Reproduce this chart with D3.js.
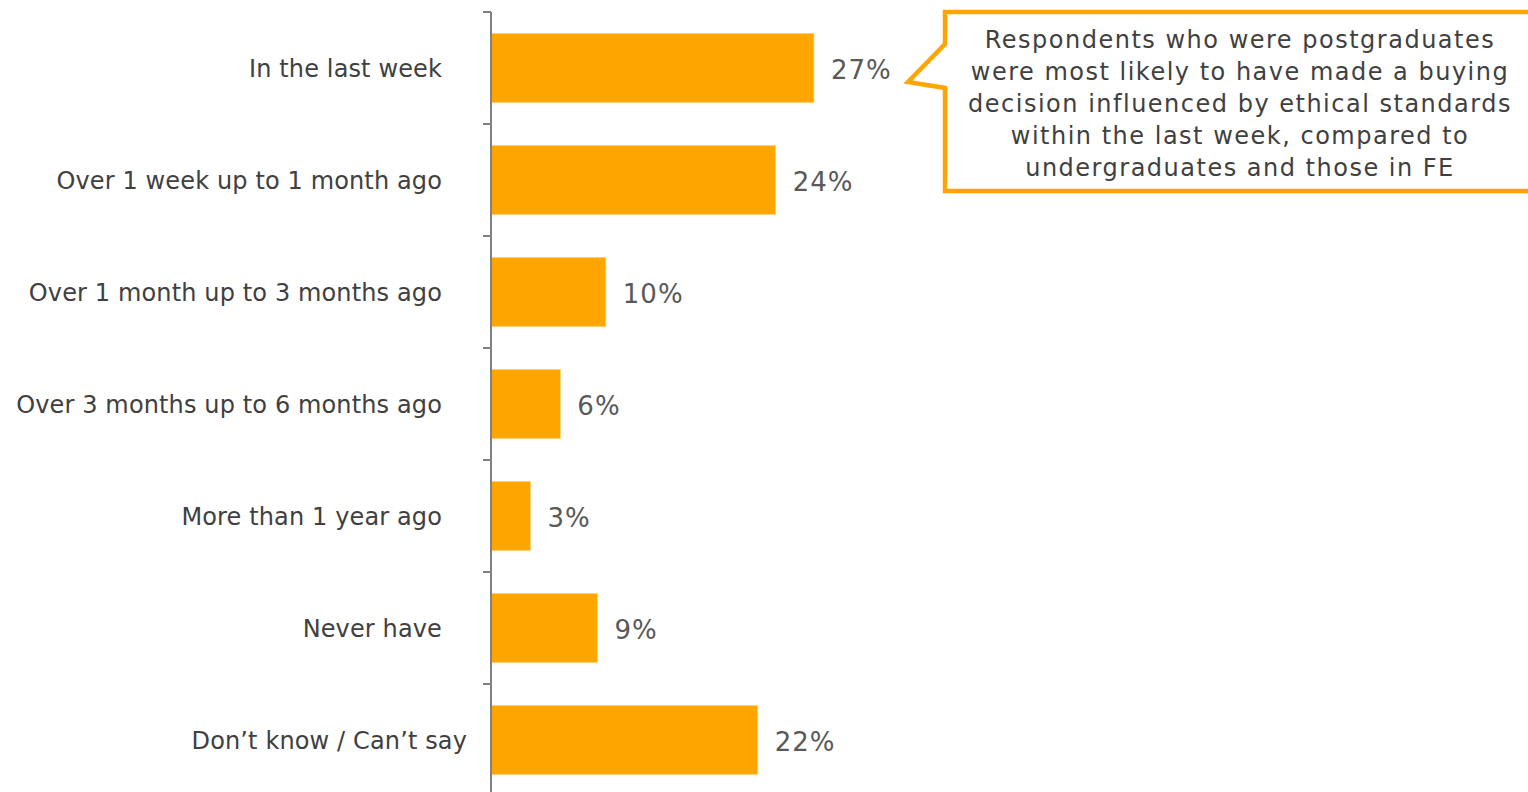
<!DOCTYPE html>
<html>
<head>
<meta charset="utf-8">
<script src="https://cdn.jsdelivr.net/npm/d3@7"></script>
<style>
  body { margin: 0; background: #fff; }
  svg { display: block; font-family: Verdana, "DejaVu Sans", sans-serif; }
  .cat { font-size: 24px; fill: #404040; letter-spacing: 0.13px; }
  .value { font-size: 26px; fill: #595959; letter-spacing: 1px; }
  .note { font-size: 24px; fill: #404040; letter-spacing: 1.5px; }
</style>
</head>
<body>
<svg id="chart" width="1528" height="792"></svg>
<script>
// data
const categories = [
    'In the last week',
    'Over 1 week up to 1 month ago',
    'Over 1 month up to 3 months ago',
    'Over 3 months up to 6 months ago',
    'More than 1 year ago',
    'Never have',
    'Don\u2019t know / Can\u2019t say'
];
const values = [27.0, 23.8, 9.6, 5.8, 3.3, 8.9, 22.3];
const valueLabels = ['27%', '24%', '10%', '6%', '3%', '9%', '22%'];
const noteLines = [
    'Respondents who were postgraduates',
    'were most likely to have made a buying',
    'decision influenced by ethical standards',
    'within the last week, compared to',
    'undergraduates and those in FE'
];

const orange = '#FFA500';
const svg = d3.select('#chart');

const axisX = 491;
const pad = 0.384;

const x = d3.scaleLinear()
    .domain([0, 100])
    .range([axisX, axisX + 1196]);

const y = d3.scaleBand()
    .domain(categories)
    .range([12, 796])
    .paddingInner(pad)
    .paddingOuter(pad / 2);

const step = y.step();
const bandStart = (c) => y(c) - step * pad / 2;

// bars
svg.append('g')
    .selectAll('rect')
    .data(categories)
    .join('rect')
    .attr('x', x(0))
    .attr('y', (c) => y(c))
    .attr('width', (c, i) => x(values[i]) - x(0))
    .attr('height', y.bandwidth())
    .attr('fill', orange)
    .attr('stroke', '#ffd27a')
    .attr('stroke-width', 0.8);

// axis line + ticks at band edges
const ax = svg.append('g').attr('stroke', '#808080').attr('stroke-width', 2);
ax.append('line')
    .attr('x1', axisX).attr('x2', axisX)
    .attr('y1', bandStart(categories[0]))
    .attr('y2', 800);
ax.selectAll('.tick')
    .data(categories)
    .join('line')
    .attr('class', 'tick')
    .attr('x1', axisX - 8).attr('x2', axisX)
    .attr('y1', (c) => bandStart(c))
    .attr('y2', (c) => bandStart(c));

// category labels (last one sits further right in the original)
svg.append('g')
    .selectAll('text')
    .data(categories)
    .join('text')
    .attr('class', 'cat')
    .attr('x', (c, i) => i === categories.length - 1 ? axisX - 24 : axisX - 49)
    .attr('y', (c) => y(c) + y.bandwidth() / 2)
    .attr('dy', '0.36em')
    .attr('text-anchor', 'end')
    .text((c) => c);

// value labels
svg.append('g')
    .selectAll('text')
    .data(categories)
    .join('text')
    .attr('class', 'value')
    .attr('x', (c, i) => x(values[i]) + 17)
    .attr('y', (c) => y(c) + y.bandwidth() / 2 + 2)
    .attr('dy', '0.36em')
    .text((c, i) => valueLabels[i]);

// callout box
const bx = 945, by = 12, bb = 191, br = 1545;
svg.append('path')
    .attr('d', `M${bx},${by} L${br},${by} L${br},${bb} L${bx},${bb} L${bx},88 L908,82 L${bx},44 Z`)
    .attr('fill', '#fff')
    .attr('stroke', orange)
    .attr('stroke-width', 4.5)
    .attr('stroke-linejoin', 'miter');

svg.append('g')
    .selectAll('text')
    .data(noteLines)
    .join('text')
    .attr('class', 'note')
    .attr('x', 1240)
    .attr('y', (d, i) => 39 + i * 32)
    .attr('dy', '0.36em')
    .attr('text-anchor', 'middle')
    .text((d) => d);
</script>
</body>
</html>
